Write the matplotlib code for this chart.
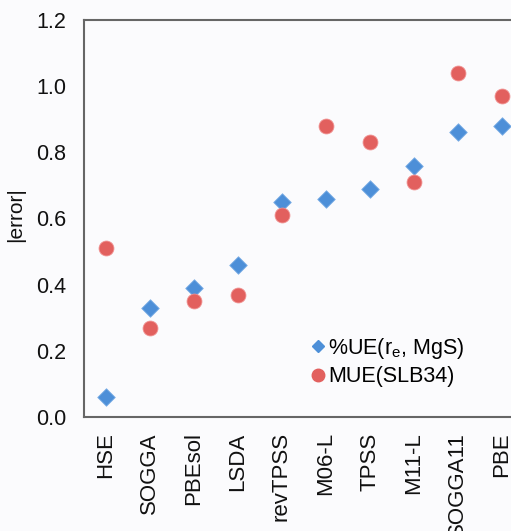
import matplotlib
matplotlib.use("Agg")
import matplotlib.pyplot as plt
from matplotlib.lines import Line2D

categories = ["HSE", "SOGGA", "PBEsol", "LSDA", "revTPSS", "M06-L", "TPSS", "M11-L", "SOGGA11", "PBE"]
ue_mgs = [0.06, 0.33, 0.39, 0.46, 0.65, 0.66, 0.69, 0.76, 0.86, 0.88]
mue_slb34 = [0.51, 0.27, 0.35, 0.37, 0.61, 0.88, 0.83, 0.71, 1.04, 0.97]
yticks = [0.0, 0.2, 0.4, 0.6, 0.8, 1.0, 1.2]

plt.rcParams['font.family'] = ['Liberation Sans', 'DejaVu Sans']

W, H = 511, 531
fig = plt.figure(figsize=(W / 100, H / 100), dpi=100, facecolor='#fbfbfd')
left_px, top_px, bot_px = 83.5, 20, 417
step = 44.0
ax = fig.add_axes([left_px / W, (H - bot_px) / H, 11 * step / W, (bot_px - top_px) / H])
ax.set_facecolor('#fbfbfd')

x = list(range(len(categories)))
blue = '#4d8fd8'
red = '#e2605e'
ax.scatter(x, ue_mgs, marker='D', s=80, color=blue, edgecolors='#7fb0e6', linewidths=0.6, zorder=3)
ax.scatter(x, mue_slb34, marker='o', s=115, color=red, edgecolors='#f09090', linewidths=0.6, zorder=3)

ax.set_xlim(-0.5, 10.5)
ax.set_ylim(0, 1.2)
ax.set_yticks(yticks)
ax.set_yticklabels([f"{v:.1f}" for v in yticks])
ax.set_xticks(x)
ax.set_xticklabels(categories, rotation=90)
ax.tick_params(axis='y', length=0, pad=12.5, labelsize=15.5, labelcolor='#111111')
ax.tick_params(axis='x', length=0, pad=11, labelsize=16, labelcolor='#111111')
for s in ['left', 'bottom', 'top']:
    ax.spines[s].set_color('#666666')
    ax.spines[s].set_linewidth(1.5)
ax.spines['right'].set_visible(False)

fig.text(16 / W, 1 - 215 / H, "|error|", rotation=90, ha='center', va='center', fontsize=15, color='#111111')

handles = [
    Line2D([], [], marker='D', linestyle='none', color=blue, markersize=6),
    Line2D([], [], marker='o', linestyle='none', color=red, markersize=9),
]
leg = ax.legend(handles, ["%UE(r$_\\mathregular{e}$, MgS)", "MUE(SLB34)"],
                loc='upper left', bbox_to_anchor=(312 / W, 1 - 336 / H), bbox_transform=fig.transFigure,
                frameon=False, fontsize=15.5, handlelength=0.6, handletextpad=0.15,
                labelspacing=0.25, borderpad=0, borderaxespad=0)

fig.savefig("out.png", dpi=100, facecolor=fig.get_facecolor())
